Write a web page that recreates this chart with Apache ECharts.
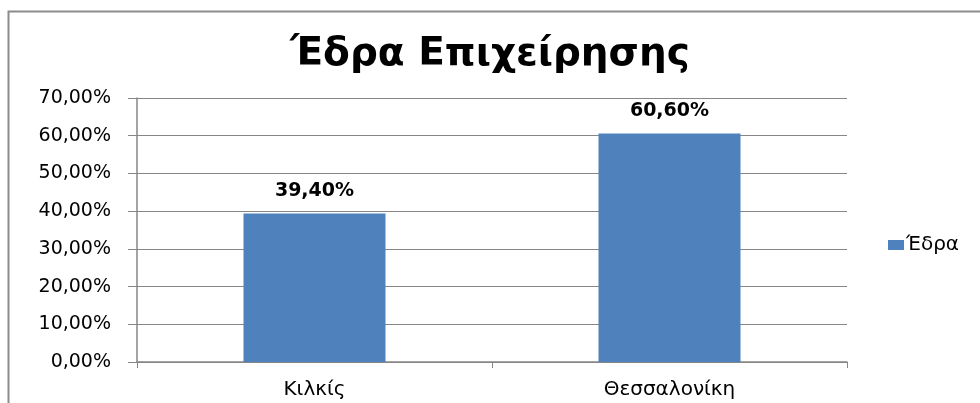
<!DOCTYPE html>
<html>
<head>
<meta charset="utf-8">
<script src="https://cdn.jsdelivr.net/npm/echarts@6/dist/echarts.min.js"></script>
<style>
  html, body { margin: 0; padding: 0; background: #fff; }
  #chart { width: 980px; height: 403px; }
</style>
</head>
<body>
<div id="chart"></div>
<script>
// Company headquarters share by city
const categories = ['Κιλκίς', 'Θεσσαλονίκη'];
const seriesName = 'Έδρα';
const values = [39.4, 60.6];
const yTicks = { min: 0, max: 70, interval: 10 };
const titleText = 'Έδρα Επιχείρησης';

const FONT = '"DejaVu Sans", Verdana, sans-serif';
const fmt = v => v.toFixed(2).replace('.', ',') + '%';

const chart = echarts.init(document.getElementById('chart'), null, { renderer: 'canvas' });
chart.setOption({
  animation: false,
  backgroundColor: '#fff',
  graphic: [{
    type: 'rect',
    shape: { x: 8.5, y: 11.5, width: 1000, height: 500 },
    style: { fill: 'none', stroke: '#8c8c8c', lineWidth: 2 },
    silent: true
  }],
  title: {
    text: titleText,
    left: 485, top: 30, textAlign: 'center',
    textStyle: { fontFamily: FONT, fontWeight: 'bold', fontSize: 39, color: '#000' }
  },
  legend: {
    left: 883, top: 230,
    itemWidth: 16, itemHeight: 10, itemGap: 4,
    icon: 'rect',
    textStyle: { fontFamily: FONT, fontSize: 20, color: '#000', padding: [0, 0, 0, -3] },
    data: [seriesName]
  },
  grid: { left: 137, right: 133, top: 98, bottom: 41, containLabel: false },
  xAxis: {
    type: 'category',
    data: categories,
    boundaryGap: true,
    axisLine: { lineStyle: { color: '#868686', width: 1.5 } },
    axisTick: { show: true, length: 6, lineStyle: { color: '#868686' } },
    axisLabel: { fontFamily: FONT, fontSize: 20, color: '#000', margin: 18 }
  },
  yAxis: {
    type: 'value',
    min: yTicks.min, max: yTicks.max, interval: yTicks.interval,
    axisLine: { show: true, lineStyle: { color: '#868686', width: 1.5 } },
    axisTick: { show: true, length: 9, lineStyle: { color: '#868686' } },
    splitLine: { show: true, lineStyle: { color: '#868686', width: 1 } },
    axisLabel: { fontFamily: FONT, fontSize: 19, color: '#000', margin: 26, formatter: fmt }
  },
  series: [{
    name: seriesName,
    type: 'bar',
    data: values,
    barWidth: '40%',
    itemStyle: { color: '#4F81BD' },
    label: {
      show: true, position: 'top', distance: 13,
      fontFamily: FONT, fontWeight: 'bold', fontSize: 19, color: '#000',
      formatter: p => fmt(p.value)
    }
  }]
});
</script>
</body>
</html>
